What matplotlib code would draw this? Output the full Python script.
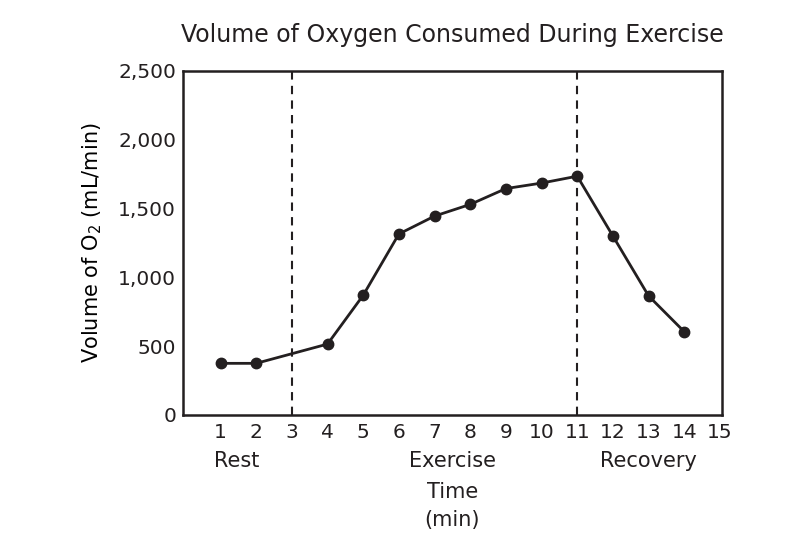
import matplotlib.pyplot as plt
from matplotlib.ticker import FuncFormatter

# data
minutes = [1, 2, 4, 5, 6, 7, 8, 9, 10, 11, 12, 13, 14]
oxygen = [375, 375, 515, 870, 1315, 1445, 1530, 1645, 1685, 1735, 1300, 865, 605]
phase_bounds = [3, 11]
phase_labels = ["Rest", "Exercise", "Recovery"]
phase_centers = [1.45, 7.5, 13]
x_ticks = list(range(1, 16))
y_ticks = [0, 500, 1000, 1500, 2000, 2500]

ink = '#231f20'
plt.rcParams['font.family'] = ['Verdana', 'DejaVu Sans']
plt.rcParams['text.color'] = ink

fig = plt.figure(figsize=(8.1, 5.54), dpi=100)
ax = fig.add_axes([0.226, 0.251, 0.665, 0.621])

ax.plot(minutes, oxygen, color=ink, linewidth=2.0, marker='o', markersize=7.5)
for xb in phase_bounds:
    ax.axvline(xb, color=ink, linestyle=(0, (4, 3)), linewidth=1.5)

ax.set_xlim(-0.05, 15.05)
ax.set_ylim(0, 2500)
ax.set_xticks(x_ticks)
ax.set_yticks(y_ticks)
ax.yaxis.set_major_formatter(FuncFormatter(lambda v, p: f"{int(v):,}"))
ax.tick_params(length=0, labelsize=14.5, colors=ink)
ax.tick_params(axis='x', pad=6)
ax.tick_params(axis='y', pad=5)
for s in ax.spines.values():
    s.set_color(ink)
    s.set_linewidth(1.8)

for lab, xc in zip(phase_labels, phase_centers):
    ax.text(xc, -0.135, lab, transform=ax.get_xaxis_transform(),
            ha='center', va='center', fontsize=15)
ax.text(0.5, -0.225, "Time", transform=ax.transAxes, ha='center', va='center', fontsize=15)
ax.text(0.5, -0.305, "(min)", transform=ax.transAxes, ha='center', va='center', fontsize=15)

ax.set_ylabel("Volume of O$_2$ (mL/min)", fontsize=15, labelpad=10)
ax.set_title("Volume of Oxygen Consumed During Exercise", fontsize=17, pad=21)

fig.savefig("out.png", dpi=100)
